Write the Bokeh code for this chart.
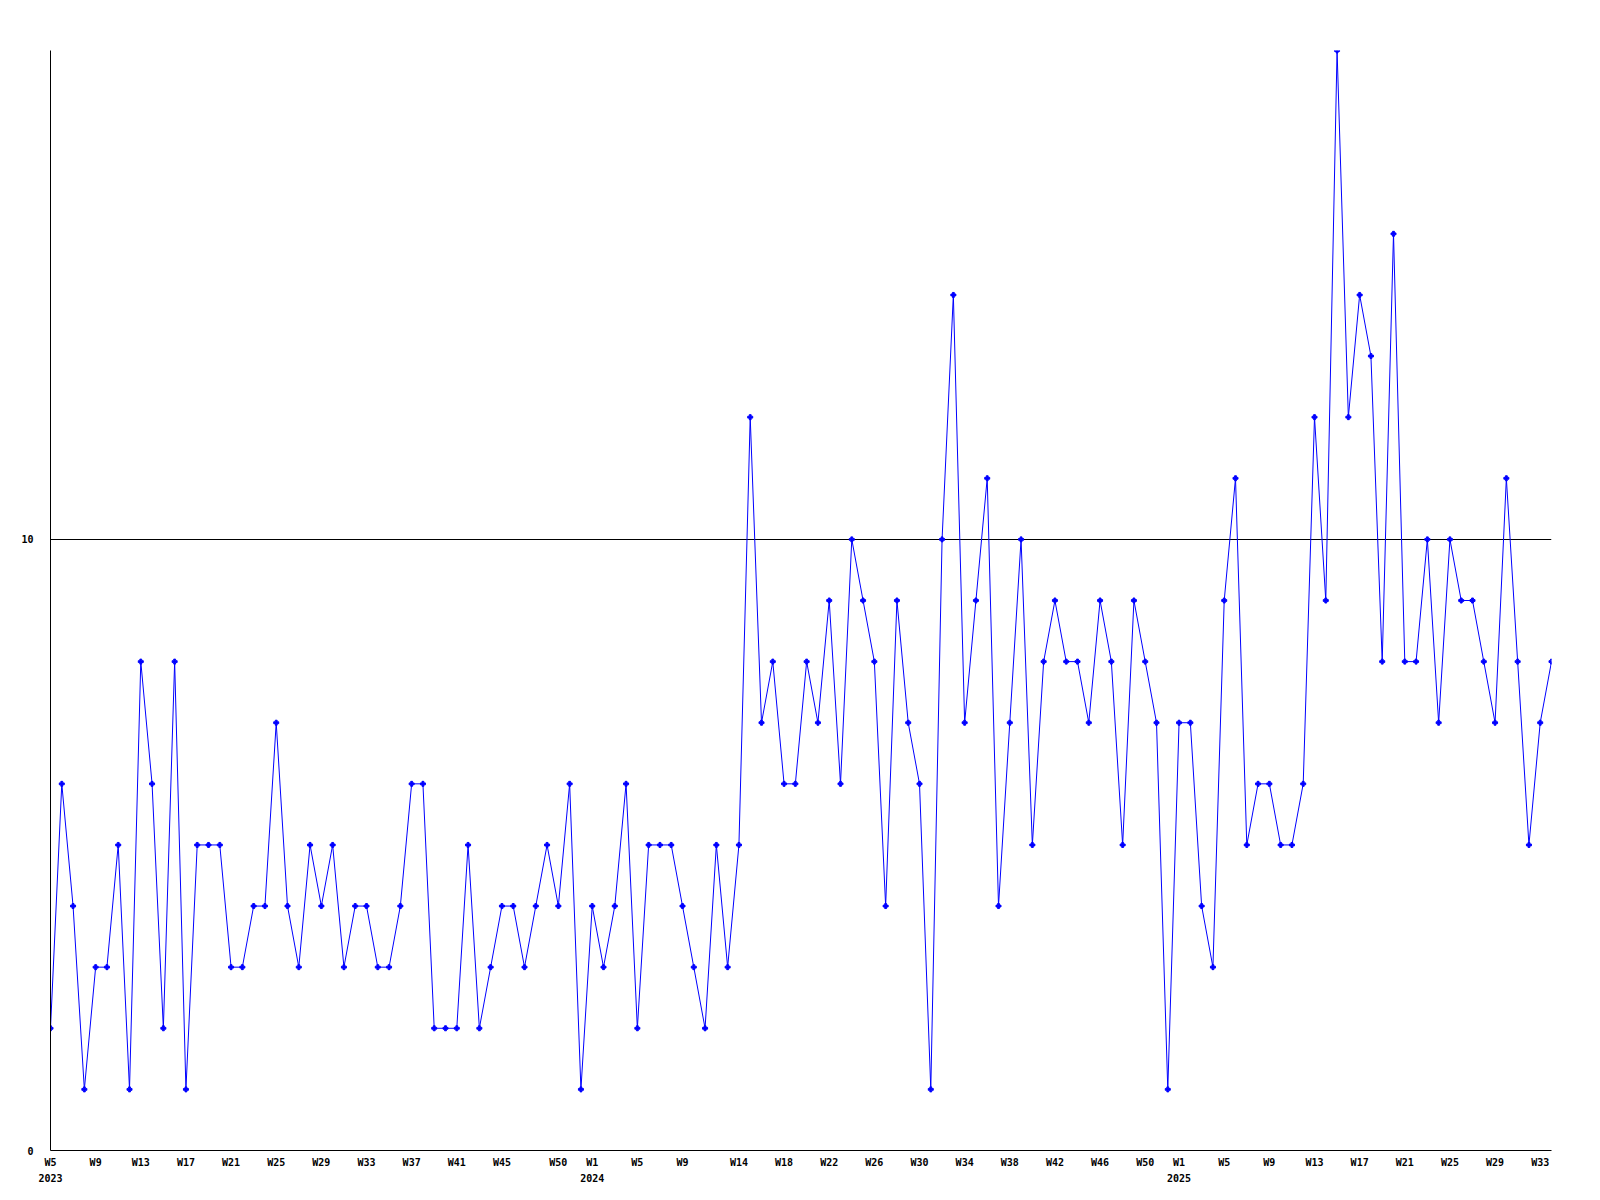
from bokeh.plotting import figure
from bokeh.models import Range1d, FixedTicker, ColumnDataSource
from bokeh.embed import file_html
from bokeh.resources import INLINE

# Weekly values, 2023 W5 .. 2025 W34 (one per ISO week)
values_2023 = [2, 6, 4, 1, 3, 3, 5, 1, 8, 6, 2, 8, 1, 5, 5, 5, 3, 3, 4, 4,
               7, 4, 3, 5, 4, 5, 3, 4, 4, 3, 3, 4, 6, 6, 2, 2, 2, 5, 2, 3,
               4, 4, 3, 4, 5, 4, 6, 1]  # W5..W52
values_2024 = [4, 3, 4, 6, 2, 5, 5, 5, 4, 3, 2, 5, 3, 5, 12, 7, 8, 6, 6, 8,
               7, 9, 6, 10, 9, 8, 4, 9, 7, 6, 1, 10, 14, 7, 9, 11, 4, 7, 10, 5,
               8, 9, 8, 8, 7, 9, 8, 5, 9, 8, 7, 1]  # W1..W52
values_2025 = [7, 7, 4, 3, 9, 11, 5, 6, 6, 5, 5, 6, 12, 9, 18, 12, 14, 13, 8, 15,
               8, 8, 10, 7, 10, 9, 9, 8, 7, 11, 8, 5, 7, 8]  # W1..W34

values = values_2023 + values_2024 + values_2025
week_index = list(range(len(values)))

# Tick labels (index into the weekly series -> label)
tick_positions = [0, 4, 8, 12, 16, 20, 24, 28, 32, 36, 40, 45,
                  48, 52, 56, 61, 65, 69, 73, 77, 81, 85, 89, 93, 97,
                  100, 104, 108, 112, 116, 120, 124, 128, 132]
tick_labels = ["W5\n2023", "W9", "W13", "W17", "W21", "W25", "W29", "W33", "W37", "W41", "W45", "W50",
               "W1\n2024", "W5", "W9", "W14", "W18", "W22", "W26", "W30", "W34", "W38", "W42", "W46", "W50",
               "W1\n2025", "W5", "W9", "W13", "W17", "W21", "W25", "W29", "W33"]
y_ticks = [0, 10]

src = ColumnDataSource(dict(x=week_index, y=values))

p = figure(output_backend="svg", toolbar_location=None,
           frame_width=1501, frame_height=1100,
           min_border_left=50, min_border_top=50, min_border_right=30, min_border_bottom=36,
           x_range=Range1d(0, len(values) - 1), y_range=Range1d(0, 18))
p.outline_line_color = None
p.background_fill_color = "white"
p.border_fill_color = "white"

p.line("x", "y", source=src, line_color="#0000ff", line_width=1)
p.scatter("x", "y", source=src, marker="plus", size=5, fill_color="#0000ff", line_color="#0000ff")

font = "DejaVu Sans Mono"
p.xaxis.ticker = FixedTicker(ticks=tick_positions)
p.xaxis.major_label_overrides = {pos: lab for pos, lab in zip(tick_positions, tick_labels)}
p.yaxis.ticker = FixedTicker(ticks=y_ticks)
for ax in (p.xaxis, p.yaxis):
    ax.major_tick_out = 0
    ax.major_tick_in = 0
    ax.minor_tick_out = 0
    ax.minor_tick_in = 0
    ax.axis_line_color = "black"
    ax.axis_line_width = 1
    ax.major_label_text_font = font
    ax.major_label_text_font_style = "bold"
    ax.major_label_text_font_size = "10px"
    ax.major_label_text_color = "black"
p.xaxis.major_label_standoff = 6
p.xaxis.major_label_text_line_height = 1.5
p.yaxis.major_label_standoff = 17

p.xgrid.visible = False
p.ygrid.ticker = FixedTicker(ticks=[10])
p.ygrid.grid_line_color = "black"
p.ygrid.grid_line_alpha = 1.0
p.ygrid.grid_line_width = 1

open("out.html", "w").write(file_html(p, INLINE))
